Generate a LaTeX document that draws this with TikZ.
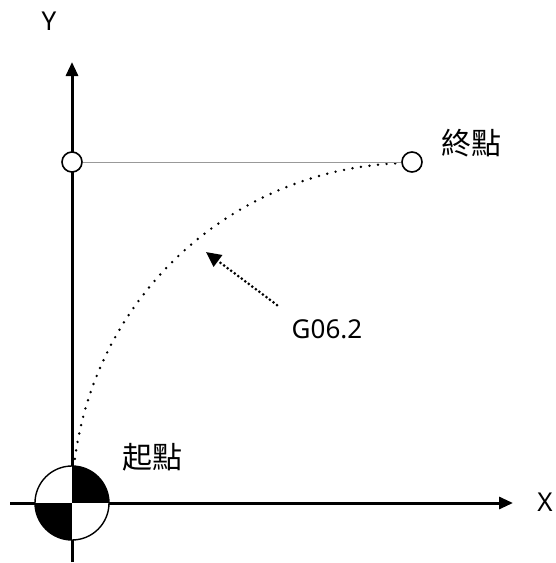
\documentclass[tikz,border=0pt]{standalone}
\usepackage{fontspec}
\setmainfont{Noto Sans}
\newfontfamily\cjk{Noto Sans CJK TC}
\usetikzlibrary{arrows.meta}
\begin{document}
\begin{tikzpicture}[x=1pt,y=-1pt,
  axis/.style={line width=3pt,-{Triangle[length=14pt,width=12pt]}},
  pt/.style={circle,draw,line width=1.6pt,fill=white,minimum size=20pt,inner sep=0pt},
  lbl/.style={font=\fontsize{26}{26}\selectfont,inner sep=0pt},
  cjklbl/.style={font=\cjk\fontsize{30}{30}\selectfont,inner sep=0pt}]
\useasboundingbox (0,0) rectangle (555,563);
\coordinate (O) at (72,503);
\coordinate (yb) at (72,562);
\coordinate (yt) at (72,62);
\coordinate (xl) at (10,503);
\coordinate (xr) at (513,503);
\draw[axis] (yb) -- (yt);
\draw[axis] (xl) -- (xr);
% dotted arc
\draw[line width=2.7pt,line cap=round,dash pattern=on 0pt off 8.6pt]
  plot[domain=6:90,samples=120,smooth] ({412-340*cos(\x)},{503-340*sin(\x)});
% points
\node[pt] (A) at (72,162) {};
\node[pt] (B) at (412,162) {};
\draw[gray!80,line width=1pt] (A) -- (B);
% origin symbol
\fill[white] (O) circle (37);
\begin{scope}
  \clip (O) circle (37);
  \fill[black] (72,503) rectangle (112,463);
  \fill[black] (72,503) rectangle (32,543);
\end{scope}
\draw[line width=1.4pt] (O) circle (37);
% dotted arrow
\coordinate (g1) at (277,305);
\coordinate (g2) at (206,252);
\draw[line width=3pt,line cap=round,dash pattern=on 0pt off 4.4pt,
  -{Triangle[length=15pt,width=14pt]}] (g1) -- (g2);
% labels
\node[lbl] (ylab) at (49,21) {Y};
\node[lbl] (xlab) at (545,502) {X};
\node[lbl] (glab) at (327,329) {G06.2};
\node[cjklbl] (end) at (471,143) {終點};
\node[cjklbl] (start) at (152,457) {起點};
\end{tikzpicture}
\end{document}
